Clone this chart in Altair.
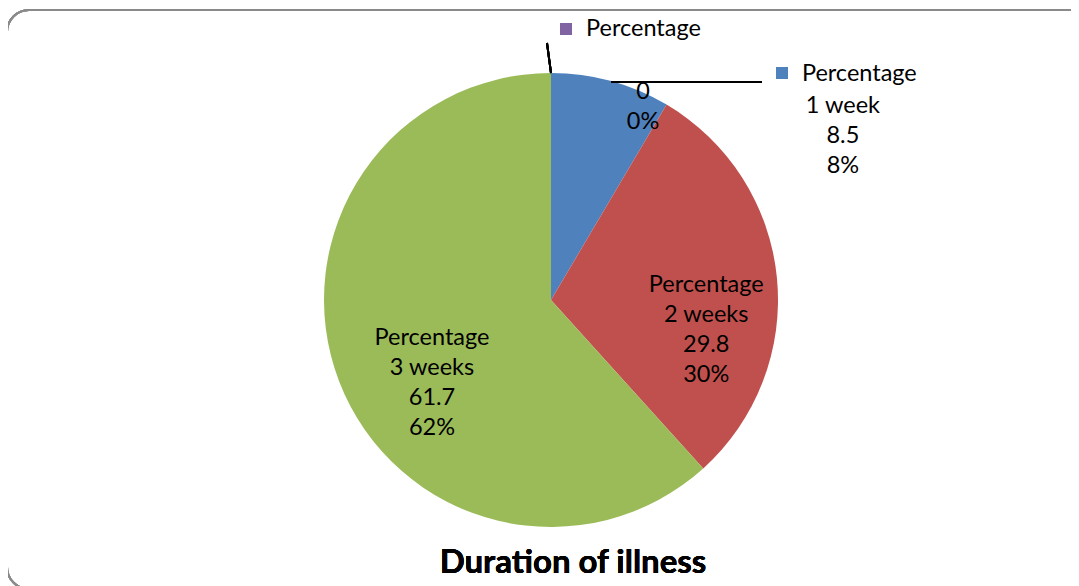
import altair as alt
import pandas as pd

# ---- data ----
series_name = "Percentage"
categories = ["", "1 week", "2 weeks", "3 weeks"]
values = [0, 8.5, 29.8, 61.7]
value_labels = ["0", "8.5", "29.8", "61.7"]
pct_labels = ["0%", "8%", "30%", "62%"]
colors = ["#8064A2", "#4F81BD", "#C0504D", "#9BBB59"]
title_text = "Duration of illness"

FONT = "Lato"
FS = 23.5
LH = 30
CX, CY, R = 543, 292, 227

rows = []
for i, (c, v, vl, p) in enumerate(zip(categories, values, value_labels, pct_labels)):
    lines = [series_name] + ([c] if c else []) + [vl, p]
    body = [c, vl, p] if c else [vl, p]
    rows.append({"order": i, "category": c, "value": v,
                 "full": "\n".join(lines), "head": series_name,
                 "body": "\n".join(body)})
df = pd.DataFrame(rows)

base = alt.Chart(df).encode(
    theta=alt.Theta("value:Q", stack=True),
    order=alt.Order("order:Q"),
    x=alt.value(CX),
    y=alt.value(CY),
)

pie = base.mark_arc(outerRadius=R, innerRadius=0).encode(
    color=alt.Color("order:N", scale=alt.Scale(domain=[0, 1, 2, 3], range=colors), legend=None)
)

def label_layer(idx, field, radius, dx, dy, align="center"):
    return base.mark_text(
        radius=radius, dx=dx, dy=dy, align=align, baseline="middle",
        lineBreak="\n", lineHeight=LH, font=FONT, fontSize=FS, color="black",
    ).encode(text=alt.condition(alt.datum.order == idx, f"{field}:N", alt.value("")))

lab_2w = label_layer(2, "full", 150, 6, 0)
lab_3w = label_layer(3, "full", 150, 21, -16)
lab_1w_body = label_layer(1, "body", R, 232, 25)
lab_1w_head = label_layer(1, "head", R, 191, -7, align="left")
lab_0_body = label_layer(0, "body", R, 92, 19)
lab_0_head = label_layer(0, "head", R, 35, -44, align="left")

marker0 = alt.Chart(df).mark_square(size=144, opacity=1, color=colors[0]).encode(
    x=alt.value(558), y=alt.value(21))
marker1 = alt.Chart(df).mark_square(size=144, opacity=1, color=colors[1]).encode(
    x=alt.value(774), y=alt.value(65))

lead0 = alt.Chart(df).mark_rule(color="black", strokeWidth=2).encode(
    x=alt.value(539), y=alt.value(35), x2=alt.value(543), y2=alt.value(65))
lead1 = alt.Chart(df).mark_rule(color="black", strokeWidth=2).encode(
    x=alt.value(603), y=alt.value(74), x2=alt.value(754), y2=alt.value(74))

border = alt.Chart(df).mark_rect(
    fill=None, fillOpacity=0, stroke="#8a8a8a", strokeWidth=2, cornerRadius=22
).encode(x=alt.value(-1), x2=alt.value(1086), y=alt.value(2), y2=alt.value(581))

title = alt.Chart(df).mark_text(
    font=FONT, fontSize=33, fontWeight="bold", color="black",
    align="center", baseline="alphabetic",
).encode(x=alt.value(565), y=alt.value(565), text=alt.value(title_text))

chart = alt.layer(
    border, pie, lab_2w, lab_3w, lab_1w_body, lab_1w_head, lab_0_body, lab_0_head,
    marker0, marker1, lead0, lead1, title,
).properties(
    width=1063, height=578, padding=0,
    autosize=alt.AutoSizeParams(type="none"),
    background="white",
).configure_view(stroke=None)

chart.save("out.html", embed_options={"renderer": "svg", "actions": False})
